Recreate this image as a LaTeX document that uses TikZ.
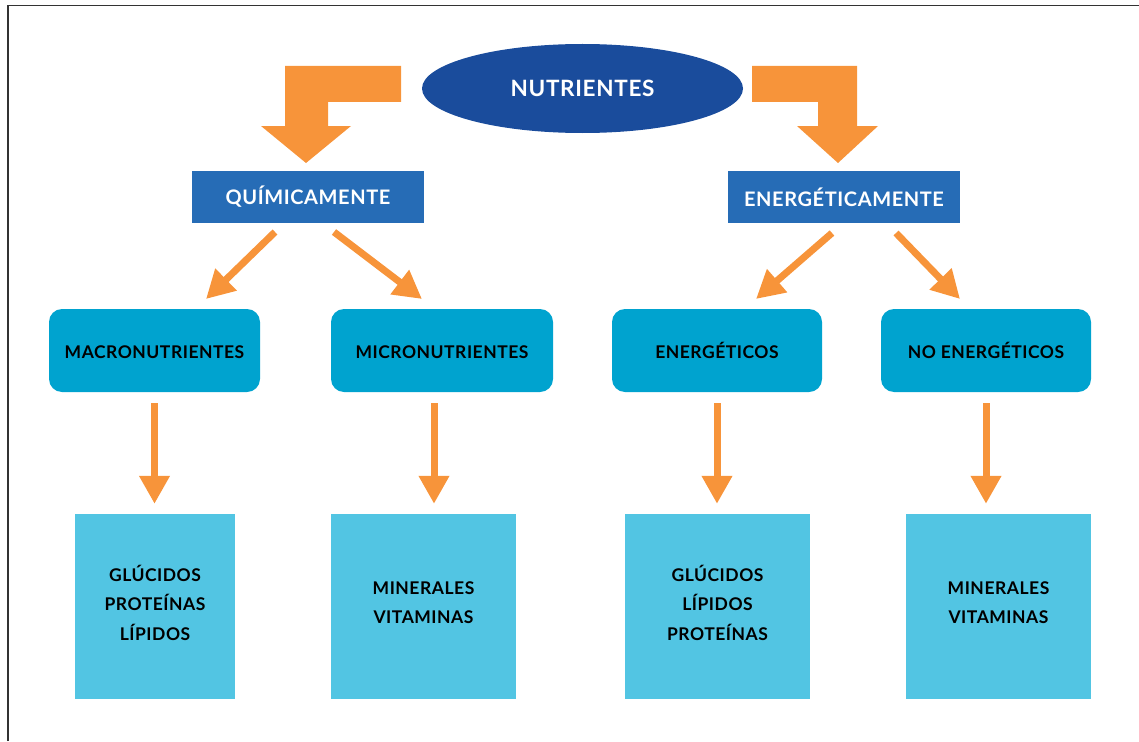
\documentclass[tikz,border=0pt]{standalone}
\usepackage{fontspec}
\setmainfont{Lato}[LetterSpace=3]
\usetikzlibrary{arrows.meta,shapes.geometric}
\definecolor{org}{HTML}{F7943A}
\definecolor{navy}{HTML}{1A4C9C}
\definecolor{midblue}{HTML}{266CB6}
\definecolor{cyanb}{HTML}{00A3CF}
\definecolor{lightc}{HTML}{52C5E3}
\definecolor{framec}{HTML}{333333}
\begin{document}
\begin{tikzpicture}[x=1pt,y=-1pt,
  arr/.style={draw=org, line width=7pt, -{Triangle[length=28pt,width=29pt]}},
  blockarrow/.style={fill=org, draw=none},
  topnode/.style={ellipse, fill=navy, text=white, inner sep=0pt,
    minimum width=321pt, minimum height=89pt,
    font=\bfseries\fontsize{22.5}{26}\selectfont},
  kindbox/.style={rectangle, fill=midblue, text=white, inner sep=0pt,
    minimum width=232pt, minimum height=52pt,
    font=\bfseries\fontsize{20}{24}\selectfont},
  groupbox/.style={rectangle, rounded corners=13pt, fill=cyanb, text=black,
    inner sep=0pt, minimum height=83pt, text height=16pt, text depth=0pt,
    font=\bfseries\fontsize{17.5}{21}\selectfont},
  itembox/.style={rectangle, fill=lightc, text=black, inner sep=0pt,
    minimum height=185pt, align=center, text depth=8pt,
    font=\bfseries\fontsize{17.5}{29.5}\selectfont},
  framel/.style={draw=framec, line width=1.5pt}
]
\useasboundingbox (0,0) rectangle (1139,741);
\draw[framel] (8,741) -- (8,5.5) -- (1139,5.5);

% top
\node[topnode] (nut) at (582.5,88.5) {NUTRIENTES};

% block arrows
\fill[blockarrow] (401,66) -- (285,66) -- (285,126) -- (261,126) -- (306,163)
  -- (351,126) -- (328,126) -- (328,102) -- (401,102) -- cycle;
\fill[blockarrow] (752,66) -- (857,66) -- (857,126) -- (878,126) -- (838,163)
  -- (797,126) -- (818,126) -- (818,102) -- (752,102) -- cycle;

% second level
\node[kindbox] (quim) at (308,197) {QUÍMICAMENTE};
\node[kindbox] (ener) at (844,197) {ENERGÉTICAMENTE};

% third level
\node[groupbox, minimum width=211pt] (macro) at (154.5,350.5) {MACRONUTRIENTES};
\node[groupbox, minimum width=222pt] (micro) at (442,350.5) {MICRONUTRIENTES};
\node[groupbox, minimum width=210pt] (energ) at (717,350.5) {ENERGÉTICOS};
\node[groupbox, minimum width=210pt] (noen) at (986,350.5) {NO ENERGÉTICOS};

% bottom level
\node[itembox, minimum width=160pt] (b1) at (155,606.5) {GLÚCIDOS\\PROTEÍNAS\\LÍPIDOS};
\node[itembox, minimum width=185pt] (b2) at (423.5,606.5) {MINERALES\\VITAMINAS};
\node[itembox, minimum width=185pt] (b3) at (717.5,606.5) {GLÚCIDOS\\LÍPIDOS\\PROTEÍNAS};
\node[itembox, minimum width=185pt] (b4) at (998.5,606.5) {MINERALES\\VITAMINAS};

% diagonal arrows
\coordinate (q1s) at (275,232); \coordinate (q1e) at (206,299);
\coordinate (q2s) at (334,232); \coordinate (q2e) at (422,299);
\coordinate (e1s) at (832,233); \coordinate (e1e) at (756,299);
\coordinate (e2s) at (896,233); \coordinate (e2e) at (960,299);
\draw[arr] (q1s) -- (q1e);
\draw[arr] (q2s) -- (q2e);
\draw[arr] (e1s) -- (e1e);
\draw[arr] (e2s) -- (e2e);

% vertical arrows
\draw[arr] ([yshift=-11pt]macro.south) -- ([yshift=10pt]macro.south |- b1.north);
\draw[arr] ([xshift=-8pt,yshift=-11pt]micro.south) -- ([xshift=-8pt,yshift=10pt]micro.south |- b2.north);
\draw[arr] ([yshift=-11pt]energ.south) -- ([yshift=10pt]energ.south |- b3.north);
\draw[arr] ([yshift=-11pt]noen.south) -- ([yshift=10pt]noen.south |- b4.north);
\end{tikzpicture}
\end{document}
